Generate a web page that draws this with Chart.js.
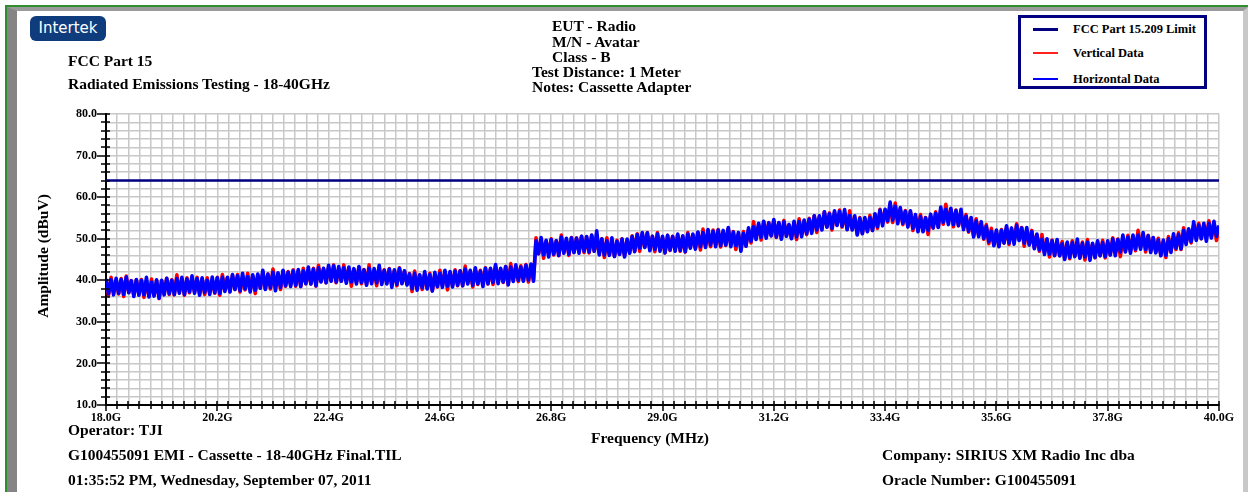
<!DOCTYPE html>
<html>
<head>
<meta charset="utf-8">
<script src="https://cdn.jsdelivr.net/npm/chart.js@4.4.0/dist/chart.umd.min.js"></script>
<style>
  html, body { margin: 0; padding: 0; background: #fff; }
  #page { position: relative; width: 1248px; height: 492px; overflow: hidden;
    font-family: 'Liberation Serif', 'Times New Roman', serif; font-weight: bold; color: #000; }
  .frame { position: absolute; left: 5px; top: 5px; right: 0; bottom: 0;
    border-top: 2px solid #2f8f2f; border-left: 2px solid #2f8f2f; }
  .bevel { position: absolute; left: 7px; top: 7px; right: 0; bottom: -20px;
    border-top: 4px solid #9a9a9a; border-left: 10px solid #858585; border-right: 5px solid #c8c8c8; }
  canvas { position: absolute; left: 0; top: 0; }
  .logo { position: absolute; left: 30px; top: 16px; width: 76px; height: 25px; border-radius: 6px;
    background: #0f3c7c; color: #fff; font: 15px 'DejaVu Sans', sans-serif; line-height: 25px; text-align: center; }
  .t { position: absolute; font-size: 15.5px; line-height: 15px; white-space: nowrap; }
  .legend { position: absolute; left: 1018px; top: 15px; width: 189px; height: 74px; box-sizing: border-box;
    border: 3px solid #000080; background: #fff; }
  .row { position: absolute; left: 0; width: 183px; height: 14px; }
  .sw { position: absolute; display: block; left: 12px; width: 25px; }
  .tx { position: absolute; left: 52px; top: 0; font-size: 12.5px; line-height: 14px; white-space: nowrap; }
  .ytitle { position: absolute; left: -57px; top: 247px; width: 200px; height: 18px; line-height: 18px;
    font-size: 15.5px; text-align: center; transform: rotate(-90deg); }
</style>
</head>
<body>
<div id="page">
  <div class="frame"></div>
  <div class="bevel"></div>
  <canvas id="chart" width="1248" height="492"></canvas>

  <div class="logo">Intertek</div>
  <div class="t" style="left:68px;top:53px">FCC Part 15</div>
  <div class="t" style="left:68px;top:76px">Radiated Emissions Testing - 18-40GHz</div>

  <div class="t" style="left:552px;top:18px">EUT - Radio</div>
  <div class="t" style="left:552px;top:34px">M/N - Avatar</div>
  <div class="t" style="left:552px;top:49px">Class - B</div>
  <div class="t" style="left:532px;top:64px">Test Distance: 1 Meter</div>
  <div class="t" style="left:532px;top:79px">Notes: Cassette Adapter</div>

  <div class="legend">
    <div class="row" style="top:4px"><span class="sw" style="top:6px;height:3px;background-color:#000080"></span><span class="tx">FCC Part 15.209 Limit</span></div>
    <div class="row" style="top:28px"><span class="sw" style="top:6px;height:2px;background-color:#ff2020"></span><span class="tx">Vertical Data</span></div>
    <div class="row" style="top:54px"><span class="sw" style="top:6px;height:2px;background-color:#0000ff"></span><span class="tx">Horizontal Data</span></div>
  </div>

  <div class="ytitle">Amplitude (dBuV)</div>
  <div class="t" style="left:550px;width:200px;text-align:center;top:430px">Frequency (MHz)</div>

  <div class="t" style="left:68px;top:422px">Operator: TJI</div>
  <div class="t" style="left:68px;top:447px">G100455091 EMI - Cassette - 18-40GHz Final.TIL</div>
  <div class="t" style="left:68px;top:472px">01:35:52 PM, Wednesday, September 07, 2011</div>
  <div class="t" style="left:882px;top:447px">Company: SIRIUS XM Radio Inc dba</div>
  <div class="t" style="left:882px;top:472px">Oracle Number: G100455091</div>
</div>

<script>
// Развёртка анализатора: 18..40 ГГц, шаг 0.05 ГГц
const sweepStartGHz = 18.0;
const sweepStepGHz = 0.05;

// Подписи осей
const xTickLabels = ['18.0G', '20.2G', '22.4G', '24.6G', '26.8G', '29.0G', '31.2G', '33.4G', '35.6G', '37.8G', '40.0G'];
const yTickLabels = ['10.0', '20.0', '30.0', '40.0', '50.0', '60.0', '70.0', '80.0'];

// Лимит FCC 15.209 (dBuV)
const limitDbuv = 64.0;

// Horizontal Data (dBuV), одна строка = 0.5 ГГц
const horizontalData = [
  40.3, 36.8, 40.1, 36.5, 40.5, 36.9, 40.2, 36.6, 40.8, 37.0,
  39.9, 36.1, 40.2, 36.4, 40.0, 36.5, 40.7, 36.0, 39.6, 36.2,
  40.1, 35.7, 40.0, 36.5, 40.5, 36.8, 40.0, 36.6, 40.4, 36.9,
  40.7, 36.6, 40.3, 37.2, 41.1, 36.9, 40.4, 36.4, 40.6, 37.1,
  40.0, 36.6, 40.8, 37.0, 40.6, 36.8, 40.7, 37.3, 40.7, 37.2,
  41.4, 37.8, 41.1, 37.5, 41.7, 37.9, 40.9, 37.2, 41.3, 37.6,
  41.5, 38.1, 42.4, 37.8, 41.5, 38.2, 41.9, 37.5, 41.8, 38.3,
  42.4, 38.7, 41.9, 38.5, 42.3, 38.8, 42.6, 38.5, 42.3, 39.2,
  43.2, 39.1, 42.7, 38.7, 43.0, 39.6, 42.9, 39.4, 43.6, 39.8,
  43.5, 39.6, 43.3, 39.8, 43.0, 39.3, 43.2, 39.6, 42.8, 39.1,
  43.3, 39.5, 42.5, 38.8, 42.9, 39.2, 42.8, 39.4, 43.6, 39.0,
  42.4, 39.1, 42.7, 38.3, 42.5, 39.0, 42.9, 39.2, 42.3, 38.9,
  41.5, 38.0, 41.7, 37.6, 41.3, 38.2, 42.1, 37.9, 41.4, 37.4,
  41.9, 38.5, 41.7, 38.3, 42.4, 38.6, 42.1, 38.4, 42.2, 38.8,
  42.3, 38.7, 42.7, 39.1, 42.4, 38.8, 43.0, 39.2, 42.2, 38.5,
  42.9, 39.2, 42.9, 39.5, 43.8, 39.2, 42.9, 39.6, 43.3, 38.9,
  43.2, 39.7, 43.7, 40.0, 43.2, 39.8, 43.6, 40.1, 43.9, 39.8,
  49.5, 46.4, 50.3, 46.1, 49.6, 45.6, 49.8, 46.3, 49.5, 46.0,
  50.4, 46.5, 50.1, 46.3, 50.2, 46.7, 50.1, 46.5, 50.6, 47.0,
  50.5, 46.8, 50.9, 47.0, 51.9, 46.1, 50.0, 46.1, 49.5, 46.0,
  50.2, 45.7, 49.4, 46.2, 49.9, 45.6, 49.9, 46.5, 50.5, 46.9,
  51.0, 47.7, 51.5, 47.9, 51.4, 47.1, 50.6, 47.4, 51.2, 47.0,
  50.6, 46.6, 50.8, 47.3, 50.5, 47.0, 51.1, 47.2, 50.7, 46.9,
  51.1, 47.7, 51.1, 47.5, 51.6, 48.1, 51.5, 47.9, 52.2, 48.5,
  51.8, 48.1, 52.1, 48.4, 52.0, 48.5, 52.7, 48.1, 51.6, 48.3,
  51.5, 47.0, 51.3, 48.2, 52.6, 49.4, 52.9, 49.8, 53.7, 50.3,
  54.2, 50.1, 53.8, 50.7, 54.6, 50.4, 53.9, 49.9, 54.1, 50.6,
  53.4, 50.0, 54.2, 50.5, 54.1, 50.5, 54.5, 51.2, 54.7, 51.3,
  55.5, 52.1, 55.5, 52.1, 56.5, 52.8, 56.0, 52.5, 56.7, 53.2,
  56.6, 53.0, 57.0, 52.2, 55.6, 52.1, 55.5, 50.9, 54.9, 51.2,
  55.1, 51.7, 55.1, 52.0, 56.0, 52.9, 56.9, 53.1, 57.1, 54.3,
  58.8, 54.5, 57.8, 53.6, 57.5, 53.7, 56.6, 52.8, 56.7, 52.5,
  55.8, 51.7, 55.3, 51.7, 55.0, 52.0, 55.9, 52.6, 56.1, 52.7,
  57.6, 54.0, 57.1, 53.4, 57.3, 53.4, 56.8, 53.2, 57.1, 52.2,
  55.4, 51.8, 55.1, 50.4, 54.3, 50.5, 54.1, 50.1, 53.0, 49.3,
  51.8, 48.3, 52.1, 48.1, 52.0, 49.0, 53.1, 49.0, 52.6, 48.7,
  53.2, 49.6, 52.6, 48.9, 52.7, 48.5, 51.7, 47.6, 51.1, 47.3,
  49.9, 46.2, 50.0, 46.3, 49.5, 46.0, 49.8, 45.9, 48.8, 45.0,
  49.2, 45.5, 49.1, 45.7, 49.9, 45.3, 48.9, 45.6, 49.2, 44.8,
  48.9, 45.5, 49.5, 45.9, 49.1, 45.7, 49.5, 46.1, 49.9, 45.9,
  49.8, 46.8, 50.9, 46.8, 50.4, 46.5, 50.9, 47.5, 50.9, 47.5,
  51.5, 47.4, 50.7, 46.7, 50.3, 46.6, 49.7, 45.9, 49.7, 46.0,
  50.0, 46.7, 51.2, 47.7, 51.0, 47.6, 52.0, 48.6, 52.4, 49.3,
  54.1, 49.6, 53.3, 50.0, 53.7, 49.4, 53.7, 50.2, 54.2, 50.6,
  53.2
];

// Vertical Data (dBuV), те же точки развёртки
const verticalData = [
  40.1, 36.4, 40.7, 37.0, 39.9, 36.7, 40.4, 36.1, 41.0, 37.1,
  39.9, 36.4, 40.1, 36.6, 40.2, 35.9, 39.4, 36.3, 40.3, 36.4,
  39.9, 35.6, 39.8, 36.7, 40.5, 36.6, 40.1, 36.5, 41.3, 37.2,
  40.1, 36.4, 40.6, 37.0, 40.4, 37.2, 40.7, 36.8, 40.3, 36.6,
  40.6, 37.0, 40.0, 36.9, 40.7, 36.4, 41.4, 37.6, 40.6, 37.3,
  41.2, 37.8, 41.4, 37.2, 40.7, 37.7, 41.7, 37.9, 41.1, 36.8,
  41.2, 38.1, 41.9, 38.0, 41.5, 37.9, 42.7, 38.6, 41.5, 37.8,
  42.2, 38.6, 42.1, 38.9, 42.5, 38.6, 42.2, 38.5, 42.9, 39.2,
  42.2, 39.1, 42.9, 38.6, 43.6, 39.8, 42.8, 39.4, 43.2, 39.9,
  43.7, 39.4, 42.8, 39.8, 43.7, 39.8, 42.9, 38.6, 42.6, 39.4,
  43.1, 39.2, 42.6, 39.0, 43.7, 39.6, 42.4, 38.7, 42.9, 39.3,
  42.5, 39.3, 42.8, 38.9, 42.4, 38.7, 43.0, 39.3, 42.2, 39.0,
  41.6, 37.3, 42.2, 38.3, 41.2, 37.8, 41.5, 38.1, 41.7, 37.5,
  41.3, 38.4, 42.4, 38.7, 41.9, 37.7, 41.8, 38.8, 42.5, 38.7,
  42.3, 38.7, 43.4, 39.3, 42.1, 38.4, 42.6, 39.0, 42.4, 39.2,
  43.0, 39.1, 42.7, 39.0, 43.4, 39.7, 42.7, 39.5, 43.3, 39.0,
  44.0, 40.1, 43.1, 39.7, 43.5, 40.1, 43.8, 39.6, 43.2, 40.2,
  50.2, 46.4, 49.6, 45.3, 49.4, 46.3, 50.0, 46.1, 49.5, 45.9,
  50.9, 46.8, 49.7, 46.0, 50.3, 46.7, 50.2, 47.0, 50.6, 46.7,
  50.4, 46.6, 50.8, 47.0, 49.8, 46.5, 50.0, 45.5, 50.2, 46.2,
  49.1, 45.8, 49.6, 46.3, 50.0, 45.9, 49.5, 46.6, 50.7, 47.0,
  51.2, 47.0, 51.2, 48.0, 51.5, 47.4, 50.6, 46.9, 51.5, 47.4,
  50.3, 46.6, 50.8, 47.2, 50.6, 47.4, 50.9, 47.0, 50.5, 46.8,
  51.5, 47.9, 50.9, 47.7, 51.5, 47.3, 52.3, 48.4, 51.4, 48.1,
  52.1, 48.7, 52.2, 48.0, 51.5, 48.4, 52.4, 48.6, 51.7, 47.4,
  51.1, 47.9, 51.7, 48.2, 52.1, 49.0, 54.1, 50.3, 53.3, 49.7,
  54.1, 50.5, 53.9, 50.7, 54.2, 50.3, 53.8, 50.1, 54.4, 50.7,
  53.2, 50.1, 53.9, 49.8, 54.8, 51.1, 54.2, 51.0, 54.9, 51.7,
  55.5, 51.5, 55.1, 52.3, 56.5, 52.8, 56.2, 52.1, 56.3, 53.4,
  56.9, 52.8, 56.0, 52.2, 56.7, 52.4, 55.0, 51.1, 55.1, 51.3,
  54.7, 51.8, 55.6, 52.0, 55.8, 52.5, 57.1, 53.7, 56.9, 54.0,
  58.3, 53.9, 58.6, 54.5, 57.1, 53.4, 56.8, 53.1, 56.5, 52.0,
  55.3, 52.0, 55.8, 51.9, 55.1, 51.0, 55.4, 52.6, 56.5, 52.8,
  56.9, 53.5, 58.3, 54.2, 56.8, 52.9, 56.9, 53.1, 56.2, 52.7,
  55.8, 51.6, 54.8, 50.8, 54.8, 50.8, 53.4, 49.9, 53.4, 48.8,
  52.5, 48.6, 51.6, 48.3, 52.2, 48.9, 52.7, 48.6, 52.2, 49.3,
  53.6, 49.7, 52.7, 48.2, 52.0, 48.6, 52.0, 47.8, 50.9, 47.0,
  51.0, 46.8, 49.4, 45.6, 49.7, 45.9, 49.2, 45.9, 49.3, 45.3,
  48.9, 45.2, 49.5, 45.8, 48.7, 45.5, 49.2, 44.9, 49.8, 45.9,
  48.7, 45.4, 49.2, 45.9, 49.6, 45.4, 49.0, 46.1, 50.2, 46.5,
  49.9, 45.7, 50.0, 47.0, 50.8, 47.0, 50.6, 47.1, 52.0, 48.0,
  50.7, 46.8, 50.8, 47.0, 50.2, 46.8, 50.1, 46.0, 49.3, 45.5,
  50.5, 47.1, 50.3, 47.4, 51.4, 47.4, 52.6, 49.0, 52.1, 49.0,
  53.3, 50.0, 53.7, 50.0, 53.1, 50.4, 54.3, 50.5, 53.8, 49.6,
  52.9
];

// точки развёртки -> {x, y}
function toPoints(values) {
  return values.map((v, i) => ({ x: +(sweepStartGHz + i * sweepStepGHz).toFixed(2), y: v }));
}

// Засечки, пересекающие ось (как в оригинальном отчёте)
const crossTicks = {
  id: 'crossTicks',
  afterDraw(chart) {
    const { ctx, chartArea, scales: { x, y } } = chart;
    ctx.save();
    ctx.strokeStyle = '#000';
    ctx.lineWidth = 1.5;
    ctx.beginPath();
    y.ticks.forEach((t, i) => {
      const py = Math.round(y.getPixelForTick(i));
      const major = i % 5 === 0;
      ctx.moveTo(chartArea.left - (major ? 9 : 5), py);
      ctx.lineTo(chartArea.left + 4, py);
    });
    x.ticks.forEach((t, i) => {
      const px = Math.round(x.getPixelForTick(i));
      const major = i % 10 === 0;
      ctx.moveTo(px, chartArea.bottom - 4);
      ctx.lineTo(px, chartArea.bottom + (major ? 6 : 4));
    });
    ctx.stroke();
    ctx.restore();
  }
};

Chart.defaults.font.family = "'Liberation Serif', 'Times New Roman', serif";
Chart.defaults.font.weight = 'bold';
Chart.defaults.color = '#000';

new Chart(document.getElementById('chart'), {
  type: 'line',
  data: {
    datasets: [
      {
        label: 'FCC Part 15.209 Limit',
        data: [{ x: 18, y: limitDbuv }, { x: 40, y: limitDbuv }],
        borderColor: '#000080',
        borderWidth: 2.5
      },
      {
        label: 'Horizontal Data',
        data: toPoints(horizontalData),
        borderColor: '#0000ff',
        borderWidth: 3.6,
        borderJoinStyle: 'round'
      },
      {
        label: 'Vertical Data',
        data: toPoints(verticalData),
        borderColor: '#ff0000',
        borderWidth: 3.6,
        borderJoinStyle: 'round'
      }
    ]
  },
  options: {
    responsive: false,
    animation: false,
    devicePixelRatio: 1,
    elements: { point: { radius: 0 }, line: { tension: 0 } },
    layout: { padding: { left: 0, top: 114, right: 29, bottom: 57 } },
    plugins: { legend: { display: false }, tooltip: { enabled: false } },
    scales: {
      x: {
        type: 'linear',
        min: 18,
        max: 40,
        ticks: {
          stepSize: 0.22,
          autoSkip: false,
          maxRotation: 0,
          padding: 6,
          font: { size: 12, weight: 'bold' },
          callback: (v, i) => (i % 10 === 0 ? xTickLabels[i / 10] : '')
        },
        grid: { color: '#c8c8c8', lineWidth: 1.5, drawTicks: false },
        border: { color: '#000', width: 2 },
        afterFit: s => { s.height = 30; }
      },
      y: {
        min: 10,
        max: 80,
        ticks: {
          stepSize: 2,
          autoSkip: false,
          padding: 9,
          font: { size: 12, weight: 'bold' },
          callback: (v, i) => (i % 5 === 0 ? yTickLabels[i / 5] : '')
        },
        grid: { color: '#c8c8c8', lineWidth: 1.5, drawTicks: false },
        border: { color: '#000', width: 2 },
        afterFit: s => { s.width = 106; }
      }
    }
  },
  plugins: [crossTicks]
});
</script>
</body>
</html>
